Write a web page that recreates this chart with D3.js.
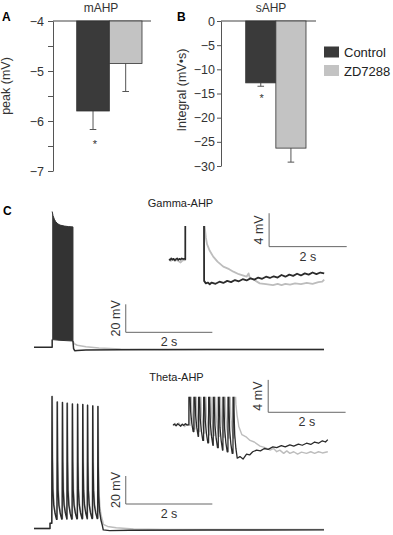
<!DOCTYPE html>
<html>
<head>
<meta charset="utf-8">
<script src="https://cdn.jsdelivr.net/npm/d3@7"></script>
<style>
  body { margin: 0; background: #fff; }
  svg { display: block; font-family: "Liberation Sans", Arial, sans-serif; }
</style>
</head>
<body>
<div id="chart"></div>
<script>
// ---------- data: bar panels ----------
const groups = ["Control", "ZD7288"];
const mahpMean = [-5.8, -4.85];
const mahpErr = [0.37, 0.56];
const sahpMean = [-12.8, -26.3];
const sahpErr = [0.7, 2.9];
const mahpTicks = [-4, -4.5, -5, -5.5, -6, -6.5, -7];
const sahpTicks = [0, -5, -10, -15, -20, -25, -30];
const barColors = ["#3a3a3a", "#c3c3c3"];

// ---------- data: gamma trace (t in s, v in mV) ----------
const gammaPre = [[0, -65], [0.42, -65], [0.42, -59.5]];
const gammaTop = [[0.42, 32], [0.44, 29], [0.47, 26.5], [0.5, 24.8], [0.55, 23.2], [0.6, 22.3], [0.7, 21.6], [0.8, 21.2], [0.9, 21]];
const gammaBottom = [[0.42, -59.5], [0.6, -60], [0.9, -60.5]];
const gammaPostBlack = [[0.9, -60.5], [0.915, -66], [0.94, -67.4], [1.0, -67.2], [1.2, -67], [2, -66.8], [4, -66.6], [6.7, -66.6]];
const gammaPostGray = [[0.9, -60.5], [0.93, -62.5], [1.0, -63.5], [1.2, -64.6], [1.5, -65.5], [2.0, -66.2], [3, -66.5], [6.7, -66.5]];

// gamma inset (zoomed view, stimulus period cut out)
const gInsetPreBlack = [[0, -64.9], [0.03, -65.0], [0.06, -64.8], [0.09, -64.95], [0.12, -64.85], [0.15, -65.05], [0.18, -64.9], [0.21, -64.8], [0.24, -65.0], [0.27, -64.85], [0.3, -64.95], [0.33, -64.8], [0.36, -64.9], [0.39, -64.85], [0.42, -64.9], [0.42, -55]];
const gInsetPreGray = [[0, -65.0], [0.05, -65.1], [0.1, -64.95], [0.15, -65.1], [0.2, -65.0], [0.25, -65.15], [0.3, -65.3], [0.35, -65.05], [0.42, -65.0], [0.425, -55]];
const gInsetPostBlack = [[0.9, -55], [0.905, -67.5], [0.95, -67.8], [1.0, -67.7], [1.05, -67.9], [1.1, -67.7], [1.2, -67.85], [1.3, -67.6], [1.4, -67.75], [1.5, -67.5], [1.6, -67.65], [1.7, -67.4], [1.8, -67.55], [1.9, -67.3], [2.0, -67.45], [2.1, -67.2], [2.2, -67.35], [2.3, -67.1], [2.4, -67.25], [2.5, -67.0], [2.6, -67.15], [2.7, -66.95], [2.8, -67.1], [2.9, -66.8], [3.0, -67.0], [3.1, -66.75], [3.2, -66.9], [3.3, -66.65], [3.4, -66.85], [3.5, -66.6], [3.6, -66.75], [3.7, -66.5], [3.8, -66.7], [3.9, -66.5], [4.0, -66.6]];
const gInsetPostGray = [[0.91, -55], [0.92, -61], [0.95, -62.3], [0.98, -63.1], [1.05, -63.9], [1.14, -64.6], [1.25, -65.2], [1.4, -65.8], [1.55, -66.1], [1.66, -66.4], [1.8, -66.7], [1.9, -66.85], [2.0, -67.0], [2.05, -66.6], [2.08, -67.1], [2.2, -67.4], [2.34, -67.8], [2.5, -67.9], [2.68, -68.0], [2.8, -67.85], [2.9, -68.0], [3.0, -67.85], [3.12, -67.95], [3.25, -67.8], [3.4, -67.9], [3.55, -67.75], [3.7, -67.85], [3.85, -67.65], [3.95, -67.6], [4.0, -67.35]];

// ---------- data: theta trace ----------
const thetaSpikeTimes = [0.41, 0.53, 0.65, 0.76, 0.88, 1.0, 1.12, 1.23, 1.35, 1.47];
const thetaPeaks = [29.3, 25.4, 25, 24.5, 24, 23.8, 23.6, 23.1, 22.6, 22.1];
const thetaTroughs = [-58.5, -58.3, -58.2, -58.2, -58.1, -58, -58, -57.9, -57.9, -63];
const thetaPreBlack = [[0, -65], [0.37, -65], [0.37, -61.2]];
const thetaPostBlack = [[1.6, -66], [1.75, -66.5], [2.2, -66.3], [4, -66.1], [6.7, -66]];
const thetaTroughsGray = [-58, -57.9, -57.8, -57.8, -57.7, -57.6, -57.6, -57.5, -57.5, -60];
const thetaPostGray = [[1.6, -62], [1.7, -63.5], [1.9, -64.5], [2.3, -65.3], [3, -65.8], [6.7, -65.8]];

// theta inset
const tInsetSpikeTimes = [0.41, 0.54, 0.66, 0.79, 0.92, 1.04, 1.17, 1.29, 1.42, 1.55];
const tInsetTroughsBlack = [-65.8, -66.4, -66.9, -67.2, -67.5, -67.8, -68.1, -68.3, -68.5, -69.1];
const tInsetTroughsGray = [-65.5, -65.8, -66.0, -66.2, -66.3, -66.4, -66.5, -66.6, -66.6, -64.8];
const tInsetPreBlack = [[0, -65.0], [0.04, -64.9], [0.08, -65.1], [0.12, -64.85], [0.16, -65.0], [0.2, -65.15], [0.24, -64.9], [0.28, -65.05], [0.32, -64.85], [0.36, -65.0], [0.41, -64.95]];
const tInsetPreGray = [[0, -65.1], [0.05, -64.8], [0.1, -65.0], [0.15, -64.75], [0.2, -65.1], [0.25, -64.9], [0.3, -65.2], [0.35, -64.9], [0.41, -65.05]];
const tInsetPostBlack = [[1.73, -68.9], [1.81, -69.2], [1.9, -68.6], [1.98, -68.7], [2.06, -68.3], [2.16, -68.1], [2.26, -68.2], [2.36, -67.9], [2.46, -68.0], [2.58, -67.7], [2.68, -67.8], [2.8, -67.55], [2.9, -67.7], [3.02, -67.45], [3.12, -67.6], [3.24, -67.35], [3.34, -67.5], [3.45, -67.25], [3.56, -67.4], [3.66, -67.1], [3.76, -67.25], [3.86, -66.95], [3.94, -67.1], [4.0, -66.8]];
const tInsetPostGray = [[1.7, -65.2], [1.78, -66.2], [1.9, -66.5], [1.99, -66.9], [2.1, -67.1], [2.25, -67.6], [2.38, -67.8], [2.51, -68.1], [2.6, -67.9], [2.68, -68.3], [2.76, -68.1], [2.86, -68.5], [2.94, -68.2], [3.02, -68.5], [3.12, -68.3], [3.22, -68.6], [3.32, -68.35], [3.45, -68.5], [3.56, -68.3], [3.66, -68.5], [3.76, -68.3], [3.86, -68.45], [4.0, -68.3]];

// spike waveform: [dt after spike onset, fraction of peak-trough height]
const spikeShape = [[0, 0], [0.006, 1], [0.014, 0.5], [0.025, 0.25], [0.045, 0.12], [0.075, 0.05], [0.11, 0]];

// ---------- svg ----------
const W = 393, H = 535;
const svg = d3.select("#chart").append("svg")
  .attr("width", W).attr("height", H);

const axisColor = "#555";
const textColor = "#333";

// ============ Panel A: mAHP ============
const yA = d3.scaleLinear().domain([-4, -7]).range([21, 171]);
const xA = d3.scaleBand().domain(groups).range([76.7, 142]).padding(0);

const axA = svg.append("g").attr("transform", "translate(53,0)")
  .call(d3.axisLeft(yA).tickValues(mahpTicks).tickSize(5).tickSizeOuter(0).tickPadding(4)
    .tickFormat(d => Number.isInteger(d) ? d3.format("d")(d) : ""));
axA.selectAll("path, line").attr("stroke", axisColor);
axA.selectAll("text").attr("fill", textColor).attr("font-size", 12.5).attr("font-family", "Liberation Sans, Arial");

svg.append("line").attr("x1", 53).attr("x2", 151)
  .attr("y1", yA(-4)).attr("y2", yA(-4)).attr("stroke", "#444").attr("stroke-width", 1.2);

groups.forEach((g, i) => {
  const x = xA(g), bw = xA.bandwidth();
  // error bar (down only)
  svg.append("line").attr("x1", x + bw / 2).attr("x2", x + bw / 2)
    .attr("y1", yA(mahpMean[i])).attr("y2", yA(mahpMean[i] - mahpErr[i])).attr("stroke", "#555");
  svg.append("line").attr("x1", x + bw / 2 - 3.3).attr("x2", x + bw / 2 + 3.3)
    .attr("y1", yA(mahpMean[i] - mahpErr[i])).attr("y2", yA(mahpMean[i] - mahpErr[i])).attr("stroke", "#555");
  svg.append("rect").attr("x", x).attr("width", bw)
    .attr("y", yA(-4)).attr("height", yA(mahpMean[i]) - yA(-4))
    .attr("fill", barColors[i]).attr("stroke", "#333").attr("stroke-width", 0.8);
});
svg.append("text").attr("x", 95).attr("y", 148).attr("text-anchor", "middle")
  .attr("font-size", 11).attr("fill", textColor).text("*");

svg.append("text").attr("x", 101).attr("y", 11.5).attr("text-anchor", "middle")
  .attr("font-size", 12).attr("fill", textColor).text("mAHP");
svg.append("text").attr("x", 2).attr("y", 20.5).attr("font-size", 12).attr("font-weight", "bold").text("A");
svg.append("text").attr("transform", "translate(10,86) rotate(-90)").attr("text-anchor", "middle")
  .attr("font-size", 12.5).attr("fill", textColor).text("peak (mV)");

// ============ Panel B: sAHP ============
const yB = d3.scaleLinear().domain([0, -30]).range([21, 166]);
const xB = d3.scaleBand().domain(groups).range([245.7, 306]).padding(0);

const axB = svg.append("g").attr("transform", "translate(221,0)")
  .call(d3.axisLeft(yB).tickValues(sahpTicks).tickSize(4).tickSizeOuter(0).tickPadding(2)
    .tickFormat(d3.format("d")));
axB.selectAll("path, line").attr("stroke", axisColor);
axB.selectAll("text").attr("fill", textColor).attr("font-size", 12.5).attr("font-family", "Liberation Sans, Arial");

svg.append("line").attr("x1", 221).attr("x2", 316)
  .attr("y1", yB(0)).attr("y2", yB(0)).attr("stroke", "#444").attr("stroke-width", 1.2);

groups.forEach((g, i) => {
  const x = xB(g), bw = xB.bandwidth();
  svg.append("line").attr("x1", x + bw / 2).attr("x2", x + bw / 2)
    .attr("y1", yB(sahpMean[i])).attr("y2", yB(sahpMean[i] - sahpErr[i])).attr("stroke", "#555");
  svg.append("line").attr("x1", x + bw / 2 - 3.3).attr("x2", x + bw / 2 + 3.3)
    .attr("y1", yB(sahpMean[i] - sahpErr[i])).attr("y2", yB(sahpMean[i] - sahpErr[i])).attr("stroke", "#555");
  svg.append("rect").attr("x", x).attr("width", bw)
    .attr("y", yB(0)).attr("height", yB(sahpMean[i]) - yB(0))
    .attr("fill", barColors[i]).attr("stroke", "#333").attr("stroke-width", 0.8);
});
svg.append("text").attr("x", 261.7).attr("y", 102).attr("text-anchor", "middle")
  .attr("font-size", 11).attr("fill", textColor).text("*");

svg.append("text").attr("x", 271).attr("y", 11.5).attr("text-anchor", "middle")
  .attr("font-size", 12).attr("fill", textColor).text("sAHP");
svg.append("text").attr("x", 177).attr("y", 20.5).attr("font-size", 12).attr("font-weight", "bold").text("B");
svg.append("text").attr("transform", "translate(186,90) rotate(-90)").attr("text-anchor", "middle")
  .attr("font-size", 12.5).attr("fill", textColor).text("Integral (mV•s)");

// legend
const legend = svg.append("g").attr("transform", "translate(324,46.5)");
groups.forEach((g, i) => {
  legend.append("rect").attr("x", 0).attr("y", i * 18.5).attr("width", 15).attr("height", 11)
    .attr("fill", barColors[i]);
  legend.append("text").attr("x", 20).attr("y", i * 18.5 + 10.5)
    .attr("font-size", 13).attr("fill", "#222").text(g);
});

// ============ Panel C: traces ============
svg.append("text").attr("x", 3).attr("y", 215).attr("font-size", 12).attr("font-weight", "bold").text("C");
svg.append("text").attr("x", 180.5).attr("y", 206.5).attr("text-anchor", "middle")
  .attr("font-size", 11).attr("fill", "#222").text("Gamma-AHP");
svg.append("text").attr("x", 176.5).attr("y", 380.5).attr("text-anchor", "middle")
  .attr("font-size", 11).attr("fill", "#222").text("Theta-AHP");

const xMain = d3.scaleLinear().domain([0, 6.7]).range([34, 324]);
const yGam = d3.scaleLinear().domain([-65, 35]).range([347.3, 207.3]);
const yThe = d3.scaleLinear().domain([-65, 35]).range([528.5, 388.5]);
const xGI = d3.scaleLinear().domain([0, 4]).range([169, 324.2]);
const yGI = d3.scaleLinear().domain([-65, -60]).range([260, 218.25]);
const xTI = d3.scaleLinear().domain([0, 4]).range([173, 327.8]);
const yTI = d3.scaleLinear().domain([-65, -60]).range([425, 384.5]);

const black = "#2b2b2b", gray = "#bdbdbd";

// build a spike train path from spike times, peaks and troughs
function spikeTrain(pre, times, peaks, troughs, post) {
  const pts = pre.slice();
  times.forEach((ts, i) => {
    const lo = troughs[i];
    const start = pts[pts.length - 1][1];
    pts.push([ts, start]);
    spikeShape.slice(1).forEach(([dt, f]) => pts.push([ts + dt, lo + f * (peaks[i] - lo)]));
    if (i < times.length - 1) pts.push([times[i + 1], lo]);
  });
  return pts.concat(post);
}

function drawLine(g, pts, xs, ys, color, w) {
  g.append("path").datum(pts)
    .attr("d", d3.line().x(d => xs(d[0])).y(d => ys(d[1])))
    .attr("fill", "none").attr("stroke", color).attr("stroke-width", w)
    .attr("stroke-linejoin", "round");
}

function scaleBar(t0, v0, dt, dv, xs, ys, vLabel) {
  const x0 = xs(t0), y0 = ys(v0);
  const x1 = xs(t0 + dt), y1 = ys(v0 + dv);
  svg.append("path").attr("d", `M${x0},${y1}V${y0}H${x1}`)
    .attr("fill", "none").attr("stroke", "#666").attr("stroke-width", 1);
  svg.append("text").attr("transform", `translate(${x0 - 6},${(y0 + y1) / 2}) rotate(-90)`)
    .attr("text-anchor", "middle").attr("font-size", 12.5).attr("fill", "#333").text(vLabel);
  svg.append("text").attr("x", (x0 + x1) / 2).attr("y", y0 + 14)
    .attr("text-anchor", "middle").attr("font-size", 12.5).attr("fill", "#333").text(dt + " s");
}

// --- gamma main ---
const gMain = svg.append("g");
drawLine(gMain, gammaPostGray, xMain, yGam, gray, 1.5);
drawLine(gMain, gammaPre, xMain, yGam, black, 1.5);
gMain.append("path").datum(gammaTop.concat(gammaBottom.slice().reverse()))
  .attr("d", d3.line().x(d => xMain(d[0])).y(d => yGam(d[1])))
  .attr("fill", "#333").attr("stroke", "#333").attr("stroke-width", 1);
drawLine(gMain, gammaPostBlack, xMain, yGam, black, 1.5);
scaleBar(2.12, -54.3, 2, 20, xMain, yGam, "20 mV");

// --- gamma inset ---
svg.append("clipPath").attr("id", "clipG").append("rect")
  .attr("x", 150).attr("y", 226).attr("width", 200).attr("height", 80);
const gIn = svg.append("g").attr("clip-path", "url(#clipG)");
drawLine(gIn, gInsetPreGray, xGI, yGI, gray, 1.8);
drawLine(gIn, gInsetPostGray, xGI, yGI, gray, 1.8);
drawLine(gIn, gInsetPreBlack, xGI, yGI, black, 1.6);
drawLine(gIn, gInsetPostBlack, xGI, yGI, black, 1.8);
scaleBar(2.58, -63.4, 2, 4, xGI, yGI, "4 mV");

// --- theta main ---
const tMain = svg.append("g");
const thetaGray = spikeTrain(thetaPreBlack, thetaSpikeTimes.map(t => t + 0.008), thetaPeaks, thetaTroughsGray, thetaPostGray);
const thetaBlack = spikeTrain(thetaPreBlack, thetaSpikeTimes, thetaPeaks, thetaTroughs, thetaPostBlack);
drawLine(tMain, thetaGray, xMain, yThe, gray, 1.5);
drawLine(tMain, thetaBlack, xMain, yThe, black, 1.4);
scaleBar(2.12, -47.5, 2, 20, xMain, yThe, "20 mV");

// --- theta inset ---
svg.append("clipPath").attr("id", "clipT").append("rect")
  .attr("x", 150).attr("y", 396.7).attr("width", 200).attr("height", 80);
const tIn = svg.append("g").attr("clip-path", "url(#clipT)");
const insetPeaks = tInsetSpikeTimes.map(() => -45);
const tInGray = spikeTrain(tInsetPreGray, tInsetSpikeTimes.map(t => t + 0.03), insetPeaks, tInsetTroughsGray, tInsetPostGray);
const tInBlack = spikeTrain(tInsetPreBlack, tInsetSpikeTimes, insetPeaks, tInsetTroughsBlack, tInsetPostBlack);
drawLine(tIn, tInGray, xTI, yTI, gray, 1.4);
drawLine(tIn, tInBlack, xTI, yTI, black, 1.3);
scaleBar(2.46, -63.43, 2, 4, xTI, yTI, "4 mV");
</script>
</body>
</html>
